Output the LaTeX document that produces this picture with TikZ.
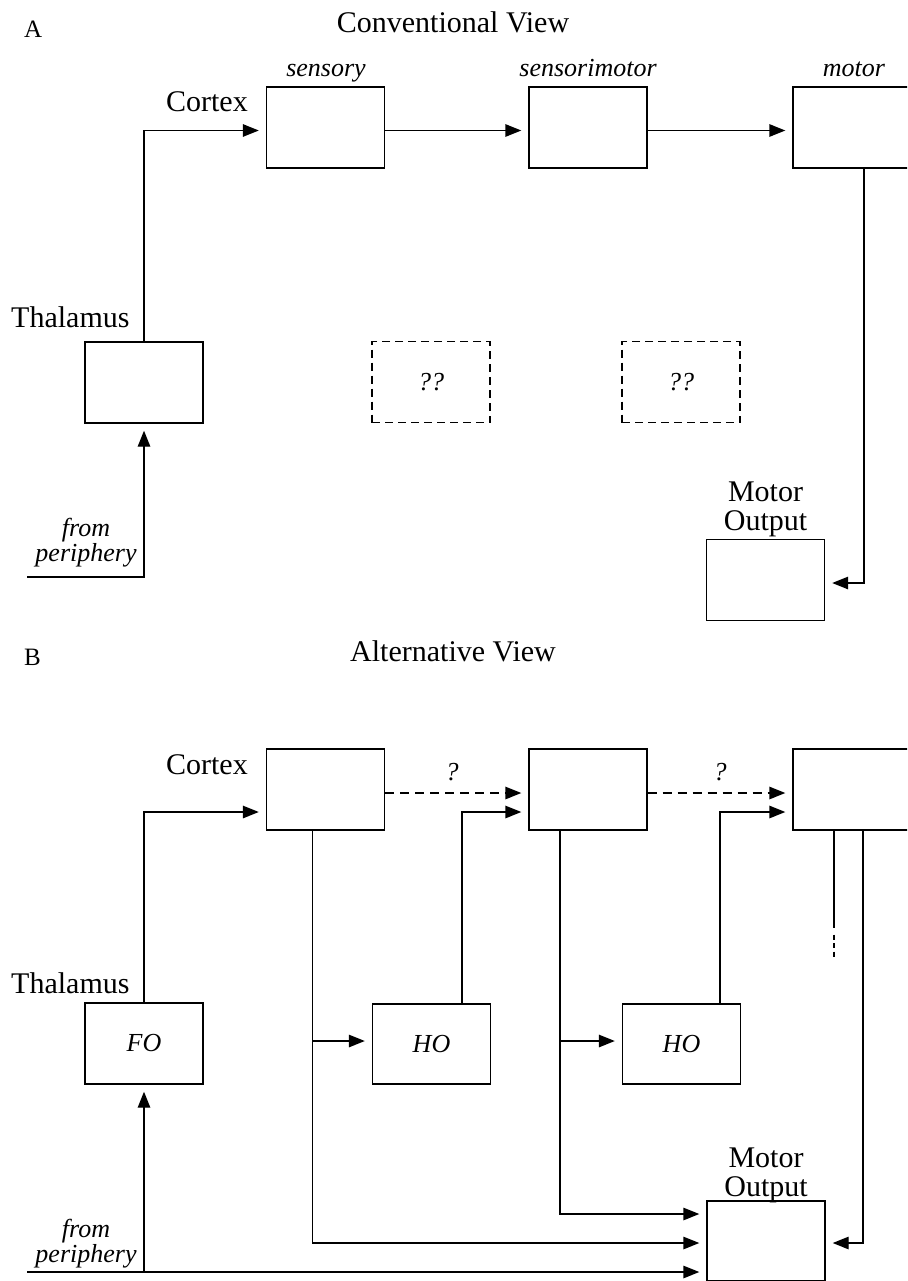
\documentclass[tikz,border=0pt]{standalone}
\usepackage{fontspec}
\setmainfont{Liberation Serif}
\usetikzlibrary{arrows.meta,calc}
\begin{document}
\begin{tikzpicture}[x=1pt,y=-1pt,
  box/.style={draw, line width=1.4pt, minimum width=118pt, minimum height=81pt, inner sep=0pt, font=\fontsize{26}{26}\selectfont\itshape},
  qbox/.style={box, dash pattern=on 8pt off 5pt},
  arr/.style={line width=1.4pt, -{Triangle[length=16pt,width=12.5pt]}, shorten >=7pt},
  darr/.style={arr, dash pattern=on 9pt off 6pt},
  ln/.style={line width=1.4pt},
  lbl/.style={font=\fontsize{30}{29}\selectfont, inner sep=0pt, align=center},
  ilbl/.style={font=\fontsize{26}{22}\selectfont\itshape, inner sep=0pt, align=center},
  plbl/.style={font=\fontsize{25}{25}\selectfont, inner sep=0pt},
]
\clip (0,0) rectangle (907,1281);

% ---------------- Panel A ----------------
\node[plbl, anchor=base west] (labA) at (24,38) {A};
\node[lbl, anchor=base] (titA) at (453,33) {Conventional View};
\node[lbl, anchor=base east] (cortA) at (248,112) {Cortex};
\node[lbl, anchor=base west] (thalA) at (11,327) {Thalamus};

\node[box] (sen) at (325.5,127.5) {};
\node[box] (sm) at (588,127.5) {};
\node[box] (mot) at (852,127.5) {};
\node[ilbl, anchor=base] (senl) at (326,77) {sensory};
\node[ilbl, anchor=base] (sml) at (588,77) {sensorimotor};
\node[ilbl, anchor=base] (motl) at (854,77) {motor};

\node[box] (th) at (144,382.5) {};
\node[qbox] (q1) at (431,382) {??};
\node[qbox] (q2) at (681,382) {??};
\node[box] (mo) at (765.5,580) {};
\node[lbl, anchor=south] (mol) at (765.5,537) {Motor\\Output};
\node[ilbl, anchor=south] (perA) at (86,567) {from\\periphery};

\coordinate (pA) at (27,577);
\draw[arr] (th.north) |- ($(sen.west)+(0,3)$);
\draw[arr] ($(sen.east)+(0,3)$) -- ($(sm.west)+(0,3)$);
\draw[arr] ($(sm.east)+(0,3)$) -- ($(mot.west)+(0,3)$);
\draw[arr] ($(mot.south)+(12,0)$) |- ($(mo.east)+(0,3)$);
\draw[arr] (pA) -| (th.south);

% ---------------- Panel B ----------------
\node[plbl, anchor=base west] (labB) at (24,665) {B};
\node[lbl, anchor=base] (titB) at (453,661) {Alternative View};
\node[lbl, anchor=base east] (cortB) at (248,774) {Cortex};
\node[lbl, anchor=base west] (thalB) at (11,993) {Thalamus};

\node[box] (c1) at (325.5,789.5) {};
\node[box] (c2) at (588,789.5) {};
\node[box] (c3) at (852,789.5) {};
\node[box] (fo) at (144,1043.5) {FO};
\node[box, minimum height=80pt] (ho1) at (431.5,1044) {HO};
\node[box, minimum height=80pt] (ho2) at (681.5,1044) {HO};
\node[box, minimum height=80pt] (mob) at (766,1241) {};
\node[lbl, anchor=south] (mobl) at (766,1203.5) {Motor\\Output};
\node[ilbl, anchor=south] (perB) at (86,1268) {from\\periphery};

\node[ilbl, anchor=base] (qa) at (452,780) {?};
\node[ilbl, anchor=base] (qb) at (720,780) {?};

% thalamus FO -> cortex 1
\draw[arr] (fo.north) |- ($(c1.west)+(0,22.5)$);
% dashed cortico-cortical
\draw[darr] ($(c1.east)+(0,3.5)$) -- ($(c2.west)+(0,3.5)$);
\draw[darr] ($(c2.east)+(0,3.5)$) -- ($(c3.west)+(0,3.5)$);
% HO -> cortex
\draw[arr] ($(ho1.north)+(30.5,0)$) |- ($(c2.west)+(0,22.5)$);
\draw[arr] ($(ho2.north)+(38.5,0)$) |- ($(c3.west)+(0,22.5)$);

% cortex 1 down
\coordinate (b1) at ($(c1.south)+(-13,0)$);
\coordinate (h1in) at ($(ho1.west)+(0,-3)$);
\draw[arr] (b1) |- ($(mob.west)+(0,2)$);
\draw[arr] (b1 |- h1in) -- (h1in);
% cortex 2 down
\coordinate (b2) at ($(c2.south)+(-28,0)$);
\coordinate (h2in) at ($(ho2.west)+(0,-3)$);
\draw[arr] (b2) |- ($(mob.west)+(0,-27)$);
\draw[arr] (b2 |- h2in) -- (h2in);
% cortex 3 down
\coordinate (b3) at ($(c3.south)+(-18,0)$);
\draw[ln] (b3) -- ++(0,97) coordinate (b3e);
\draw[ln, dash pattern=on 5pt off 3.5pt] ($(b3e)+(0,7)$) -- ++(0,23);
\draw[arr] ($(c3.south)+(11,0)$) |- ($(mob.east)+(0,2)$);

% periphery
\coordinate (pB) at (27,1272);
\draw[arr] (pB) -- (pB -| mob.west);
\draw[arr] (pB -| fo.south) -- (fo.south);
\end{tikzpicture}
\end{document}
